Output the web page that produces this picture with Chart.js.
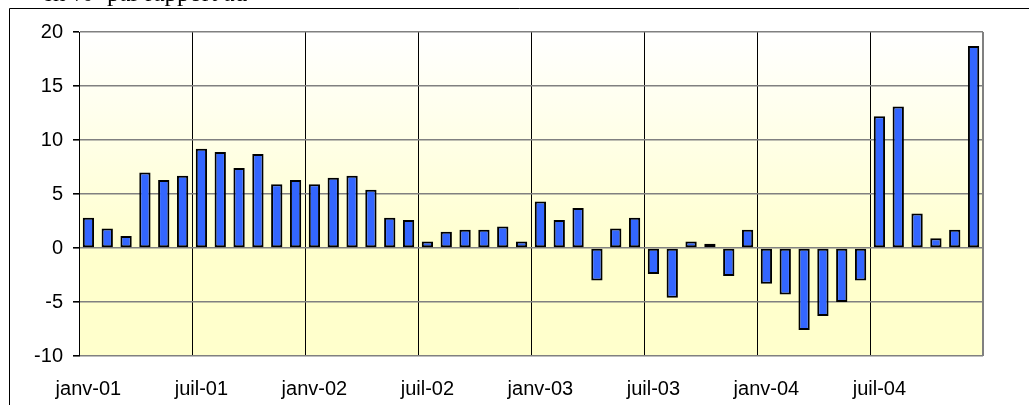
<!DOCTYPE html>
<html>
<head>
<meta charset="utf-8">
<script src="https://cdn.jsdelivr.net/npm/chart.js@4/dist/chart.umd.min.js"></script>
<style>
html,body{margin:0;padding:0;background:#fff;}
#wrap{position:relative;width:1029px;height:405px;}
</style>
</head>
<body>
<div id="wrap"><canvas id="c" width="1029" height="405"></canvas></div>
<script>
const monthNames = ["janv","févr","mars","avr","mai","juin","juil","août","sept","oct","nov","déc"];
const years = ["01","02","03","04"];
const categories = [];
years.forEach(y => monthNames.forEach(m => categories.push(m + "-" + y)));

const values = [
  2.8, 1.8, 1.1, 7.0, 6.3, 6.7, 9.2, 8.9, 7.4, 8.7, 5.9, 6.3,
  5.9, 6.5, 6.7, 5.4, 2.8, 2.6, 0.6, 1.5, 1.7, 1.7, 2.0, 0.6,
  4.3, 2.6, 3.7, -3.0, 1.8, 2.8, -2.4, -4.6, 0.6, 0.4, -2.6, 1.7,
  -3.3, -4.3, -7.6, -6.3, -5.0, -3.0, 12.2, 13.1, 3.2, 0.9, 1.7, 18.7
];

const yTicks = [-10, -5, 0, 5, 10, 15, 20];
const titleParts = ["en %", "par rapport au"];

const bgPlugin = {
  id: 'bg',
  beforeDraw(chart) {
    const {ctx, chartArea: a} = chart;
    ctx.save();
    const g = ctx.createLinearGradient(0, a.top, 0, a.bottom);
    g.addColorStop(0, '#FFFFFF');
    g.addColorStop(0.7, '#FFFFCC');
    g.addColorStop(1, '#FFFFCC');
    ctx.fillStyle = g;
    ctx.fillRect(a.left, a.top, a.right - a.left, a.bottom - a.top);
    ctx.restore();
  },
  afterDraw(chart) {
    const {ctx} = chart;
    ctx.save();
    ctx.strokeStyle = '#000';
    ctx.lineWidth = 1;
    ctx.beginPath();
    ctx.moveTo(9.5, 405);
    ctx.lineTo(9.5, 8.5);
    ctx.lineTo(1029, 8.5);
    ctx.stroke();
    ctx.fillStyle = '#000';
    ctx.font = '25px "Liberation Serif", "Times New Roman", serif';
    ctx.textBaseline = 'alphabetic';
    ctx.fillText(titleParts[0], 42, 1);
    ctx.fillText(titleParts[1], 107, 1);
    ctx.restore();
  }
};

new Chart(document.getElementById('c'), {
  type: 'bar',
  data: {
    labels: categories,
    datasets: [{
      data: values,
      backgroundColor: '#3366FF',
      borderColor: '#000000',
      borderWidth: 2,
      borderSkipped: false,
      barPercentage: 0.6,
      categoryPercentage: 1.0
    }]
  },
  plugins: [bgPlugin],
  options: {
    responsive: false,
    animation: false,
    devicePixelRatio: 1,
    layout: { padding: { left: 0, top: 32, right: 46, bottom: 0 } },
    plugins: { legend: { display: false }, tooltip: { enabled: false } },
    scales: {
      x: {
        offset: true,
        grid: {
          offset: true,
          drawTicks: false,
          color: (c) => c.type === 'tick' ? (c.index % 6 === 0 ? '#000000' : 'rgba(0,0,0,0)') : '#808080',
          lineWidth: (c) => c.type === 'tick' ? 1 : 2
        },
        border: { display: false },
        ticks: {
          autoSkip: false,
          maxRotation: 0,
          minRotation: 0,
          padding: 21,
          color: '#000',
          font: { family: '"Liberation Sans", Arial, sans-serif', size: 20 },
          callback: function(v, i) { return i % 6 === 0 ? categories[i] : ''; }
        },
        afterFit(s) { s.height = 49; }
      },
      y: {
        min: -10,
        max: 20,
        afterBuildTicks(s) { s.ticks = yTicks.map(v => ({value: v})); },
        grid: {
          color: '#808080',
          lineWidth: 1.6,
          tickColor: '#000',
          tickLength: 6
        },
        border: { display: true, color: '#000', width: 1 },
        ticks: {
          padding: 10,
          color: '#000',
          font: { family: '"Liberation Sans", Arial, sans-serif', size: 20 }
        },
        afterFit(s) { s.width = 79; }
      }
    }
  }
});
</script>
</body>
</html>
